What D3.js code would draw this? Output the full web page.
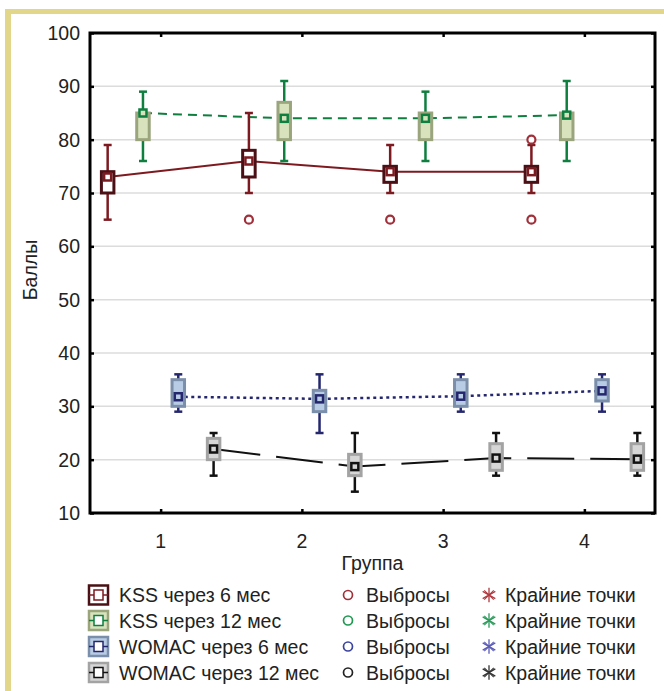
<!DOCTYPE html>
<html><head><meta charset="utf-8">
<script src="https://cdn.jsdelivr.net/npm/d3@7"></script>
<style>
html,body{margin:0;padding:0;background:#fff;}
svg{display:block;}
text{font-family:"Liberation Sans", Arial, sans-serif; fill:#222;}
</style></head>
<body>
<script>
// ---- data ----
const groups = [1, 2, 3, 4];
const yTicks = [10, 20, 30, 40, 50, 60, 70, 80, 90, 100];
const seriesNames = ["KSS через 6 мес", "KSS через 12 мес", "WOMAC через 6 мес", "WOMAC через 12 мес"];
const whiskerLow  = [[65, 70, 70, 70], [76, 76, 76, 76], [29, 25, 29, 29], [17, 14, 17, 17]];
const boxLow      = [[70, 73, 72, 72], [80, 80, 80, 80], [30, 29, 30, 31], [20, 17, 18, 18]];
const boxHigh     = [[74, 78, 75, 75], [85, 87, 85, 85], [35, 33, 35, 35], [24, 21, 23, 23]];
const whiskerHigh = [[79, 85, 79, 79], [89, 91, 89, 91], [36, 36, 36, 36], [25, 25, 25, 25]];
const means       = [[73, 76, 74, 74], [85, 84, 84, 84.6], [31.8, 31.4, 31.9, 32.9], [22, 18.7, 20.3, 20.1]];
const outliers    = [[[], [65], [65], [65, 80]], [[], [], [], []], [[], [], [], []], [[], [], [], []]];
const outlierLabel = "Выбросы";
const extremeLabel = "Крайние точки";
const xTitle = "Группа";
const yTitle = "Баллы";

// ---- styles ----
const boxStroke = ["#4a1015", "#9aa57e", "#7b8fab", "#a3a3a3"];
const boxFill   = ["#ffffff", "#d8e3bd", "#b9cce6", "#d6d6d6"];
const lineCol   = ["#7d1a20", "#0e7f3f", "#24276e", "#111111"];
const dashes    = [null, "9,6", "3,3.5", "47,16"];
const outCol    = ["#a0303a", "#1f9950", "#3a44a0", "#222222"];
const extCol    = ["#b03a40", "#2a9a5a", "#5a5ab8", "#333333"];
const FS = 19.5;

const W = 664, H = 691;
const svg = d3.select("body").append("svg").attr("width", W).attr("height", H);

// outer yellow border
svg.append("line").attr("x1", 5).attr("x2", W).attr("y1", 11.5).attr("y2", 11.5)
  .attr("stroke", "#e2d68b").attr("stroke-width", 5);
svg.append("line").attr("x1", 8).attr("x2", 8).attr("y1", 9).attr("y2", H)
  .attr("stroke", "#e2d68b").attr("stroke-width", 6);

const L = 90, R = 655, T = 33, B = 513;
const x = d3.scaleLinear().domain([0.5, 4.5]).range([L, R]);
const y = d3.scaleLinear().domain([10, 100]).range([B, T]);

// grid
svg.append("g").selectAll("line").data(yTicks.filter(t => t > 10 && t < 100)).join("line")
  .attr("x1", L).attr("x2", R).attr("y1", d => y(d)).attr("y2", d => y(d))
  .attr("stroke", "#dcdcdc").attr("stroke-width", 1.5);

// axes with inward ticks
const axL = svg.append("g").attr("transform", `translate(${L},0)`)
  .call(d3.axisRight(y).tickValues(yTicks).tickSize(4).tickFormat(""));
const axR = svg.append("g").attr("transform", `translate(${R},0)`)
  .call(d3.axisLeft(y).tickValues(yTicks).tickSize(4).tickFormat(""));
const axB = svg.append("g").attr("transform", `translate(0,${B})`)
  .call(d3.axisTop(x).tickValues(groups).tickSize(4).tickFormat(""));
const axT = svg.append("g").attr("transform", `translate(0,${T})`)
  .call(d3.axisBottom(x).tickValues(groups).tickSize(4).tickFormat(""));
[axL, axR, axB, axT].forEach(a => {
  a.select(".domain").remove();
  a.selectAll(".tick line").attr("stroke", "#000").attr("stroke-width", 2.5);
});

// tick labels
svg.append("g").selectAll("text").data(yTicks).join("text")
  .attr("x", 80).attr("y", d => y(d)).attr("text-anchor", "end")
  .attr("dominant-baseline", "central").attr("font-size", FS).text(d => d);
svg.append("g").selectAll("text").data(groups).join("text")
  .attr("x", d => x(d)).attr("y", 541).attr("text-anchor", "middle")
  .attr("dominant-baseline", "central").attr("font-size", FS).text(d => d);

svg.append("text").attr("x", (L + R) / 2).attr("y", 563).attr("text-anchor", "middle")
  .attr("dominant-baseline", "central").attr("font-size", FS).text(xTitle);
svg.append("text").attr("transform", "translate(30,270) rotate(-90)").attr("text-anchor", "middle")
  .attr("dominant-baseline", "central").attr("font-size", FS).text(yTitle);

const off = i => (i - 1.5) * 0.25;
const bw = 12.5, cap = 8, mk = 7;

// lines
seriesNames.forEach((s, i) => {
  const line = d3.line().x((d, j) => x(groups[j] + off(i))).y(d => y(d));
  const p = svg.append("path").attr("d", line(means[i])).attr("fill", "none")
    .attr("stroke", lineCol[i]).attr("stroke-width", i === 2 ? 2.5 : 2);
  if (dashes[i]) p.attr("stroke-dasharray", dashes[i]);
});

// boxes
seriesNames.forEach((s, i) => {
  const g = svg.append("g");
  groups.forEach((gr, j) => {
    const cx = x(gr + off(i));
    g.append("line").attr("x1", cx).attr("x2", cx).attr("y1", y(whiskerHigh[i][j])).attr("y2", y(boxHigh[i][j]))
      .attr("stroke", lineCol[i]).attr("stroke-width", 2.5);
    g.append("line").attr("x1", cx).attr("x2", cx).attr("y1", y(boxLow[i][j])).attr("y2", y(whiskerLow[i][j]))
      .attr("stroke", lineCol[i]).attr("stroke-width", 2.5);
    [whiskerHigh[i][j], whiskerLow[i][j]].forEach(v => {
      g.append("line").attr("x1", cx - cap / 2).attr("x2", cx + cap / 2).attr("y1", y(v)).attr("y2", y(v))
        .attr("stroke", lineCol[i]).attr("stroke-width", 2.5);
    });
    g.append("rect").attr("x", cx - bw / 2).attr("width", bw)
      .attr("y", y(boxHigh[i][j])).attr("height", y(boxLow[i][j]) - y(boxHigh[i][j]))
      .attr("fill", boxFill[i]).attr("stroke", boxStroke[i]).attr("stroke-width", 3);
    g.append("rect").attr("x", cx - mk / 2).attr("y", y(means[i][j]) - mk / 2).attr("width", mk).attr("height", mk)
      .attr("fill", boxFill[i]).attr("stroke", lineCol[i]).attr("stroke-width", 2.5);
    outliers[i][j].forEach(v => {
      g.append("circle").attr("cx", cx).attr("cy", y(v)).attr("r", 4)
        .attr("fill", "#fff").attr("stroke", outCol[i]).attr("stroke-width", 2.2);
    });
  });
});

// frame
svg.append("rect").attr("x", L).attr("y", T).attr("width", R - L).attr("height", B - T)
  .attr("fill", "none").attr("stroke", "#000").attr("stroke-width", 3);

// legend
const rowY = [595, 620.5, 646.5, 672.5];
seriesNames.forEach((s, i) => {
  const cy = rowY[i];
  const g = svg.append("g");
  g.append("rect").attr("x", 89).attr("y", cy - 9.5).attr("width", 19).attr("height", 19)
    .attr("fill", boxFill[i]).attr("stroke", boxStroke[i]).attr("stroke-width", 2.5);
  g.append("line").attr("x1", 89).attr("x2", 108).attr("y1", cy).attr("y2", cy)
    .attr("stroke", lineCol[i]).attr("stroke-width", 1.5);
  g.append("rect").attr("x", 94).attr("y", cy - 5).attr("width", 9).attr("height", 10)
    .attr("fill", "#fff").attr("stroke", lineCol[i]).attr("stroke-width", 1.5);
  g.append("text").attr("x", 119).attr("y", cy).attr("dominant-baseline", "central")
    .attr("font-size", FS).text(s);
  g.append("circle").attr("cx", 348).attr("cy", cy).attr("r", 4.5)
    .attr("fill", "none").attr("stroke", outCol[i]).attr("stroke-width", 1.7);
  g.append("text").attr("x", 366).attr("y", cy).attr("dominant-baseline", "central")
    .attr("font-size", FS).text(outlierLabel);
  g.append("path").attr("transform", `translate(489,${cy})`)
    .attr("d", d3.symbol(d3.symbolAsterisk, 150)())
    .attr("fill", "none").attr("stroke", extCol[i]).attr("stroke-width", 1.3);
  g.append("path").attr("transform", `translate(489,${cy})`)
    .attr("d", d3.symbol(d3.symbolTimes, 60)())
    .attr("fill", "none").attr("stroke", extCol[i]).attr("stroke-width", 1.1);
  g.append("text").attr("x", 505).attr("y", cy).attr("dominant-baseline", "central")
    .attr("font-size", FS).text(extremeLabel);
});
</script>
</body></html>
